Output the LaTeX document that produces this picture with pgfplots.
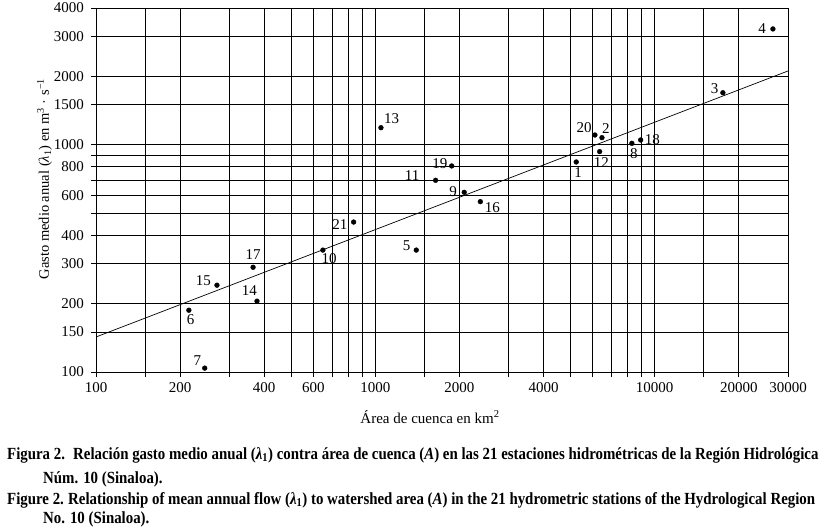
\documentclass[border=0pt]{standalone}
\usepackage{fontspec}
\setmainfont{Liberation Serif}
\newfontfamily\capfont[FakeStretch=0.875]{Liberation Serif}
\usepackage{pgfplots}
\pgfplotsset{compat=1.18}

\begin{document}
\fontsize{15}{18}\selectfont
\begin{tikzpicture}
\useasboundingbox (-96pt,-156pt) rectangle (732pt,372pt);
\begin{axis}[
    at={(0pt,0pt)}, anchor=south west,
    scale only axis, width=692pt, height=364pt,
    xmode=log, ymode=log,
    xmin=100, xmax=30000, ymin=100, ymax=4000,
    xtick={100,150,200,300,400,500,600,700,800,900,1000,1500,2000,3000,4000,5000,6000,7000,8000,9000,10000,15000,20000,30000},
    xticklabels={100,,200,,400,,600,,,,1000,,2000,,4000,,,,,,10000,,20000,30000},
    ytick={100,150,200,300,400,500,600,700,800,900,1000,1500,2000,3000,4000},
    yticklabels={100,150,200,300,400,,600,,800,,1000,1500,2000,3000,4000},
    minor tick num=0,
    tick pos=left, tick align=outside,
    major tick length=5pt,
    tick style={black, line width=0.9pt},
    tick label style={font=\rmfamily\fontsize{15}{18}\selectfont},
    yticklabel style={xshift=-2pt},
    grid=major,
    major grid style={black, line width=0.9pt},
    axis line style={black, line width=0.9pt},
    /pgf/number format/assume math mode=true,
    clip mode=individual,
]
% regression line
\addplot[black, line width=0.7pt] coordinates {(100,142.6) (30000,2113)};
% stations: area (km2), mean annual flow (m3/s)
\addplot[only marks, mark=*, mark size=2.4pt, black] coordinates {
    (5237,840)   % 1
    (6473,1075)  % 2
    (17540,1695) % 3
    (26490,3235) % 4
    (1401,344)   % 5
    (215,187)    % 6
    (245,104)    % 7
    (8283,1015)  % 8
    (2080,618)   % 9
    (649,344)    % 10
    (1643,698)   % 11
    (6352,933)   % 12
    (1047,1189)  % 13
    (377,205)    % 14
    (271,241)    % 15
    (2375,562)   % 16
    (365,289)    % 17
    (8905,1050)  % 18
    (1876,807)   % 19
    (6109,1104)  % 20
    (836,457)    % 21
};
\node at ([shift={(2pt,-11pt)}]axis cs:5237,840) {1};
\node at ([shift={(4pt,9.4pt)}]axis cs:6473,1075) {2};
\node at ([shift={(-8.3pt,4.4pt)}]axis cs:17540,1695) {3};
\node at ([shift={(-10.7pt,0pt)}]axis cs:26490,3235) {4};
\node at ([shift={(-9.6pt,4pt)}]axis cs:1401,344) {5};
\node at ([shift={(1.7pt,-9.7pt)}]axis cs:215,187) {6};
\node at ([shift={(-7.3pt,7.7pt)}]axis cs:245,104) {7};
\node at ([shift={(2pt,-10.7pt)}]axis cs:8283,1015) {8};
\node at ([shift={(-11pt,1pt)}]axis cs:2080,618) {9};
\node at ([shift={(6.3pt,-8.3pt)}]axis cs:649,344) {10};
\node at ([shift={(-23.4pt,4.3pt)}]axis cs:1643,698) {11};
\node at ([shift={(1.6pt,-11pt)}]axis cs:6352,933) {12};
\node at ([shift={(10.7pt,9.4pt)}]axis cs:1047,1189) {13};
\node at ([shift={(-7.7pt,11pt)}]axis cs:377,205) {14};
\node at ([shift={(-13.7pt,5pt)}]axis cs:271,241) {15};
\node at ([shift={(12pt,-5.6pt)}]axis cs:2375,562) {16};
\node at ([shift={(0pt,12.6pt)}]axis cs:365,289) {17};
\node at ([shift={(11.6pt,0.7pt)}]axis cs:8905,1050) {18};
\node at ([shift={(-11.7pt,2pt)}]axis cs:1876,807) {19};
\node at ([shift={(-10.7pt,7.3pt)}]axis cs:6109,1104) {20};
\node at ([shift={(-13.7pt,-2.3pt)}]axis cs:836,457) {21};
\end{axis}
% axis titles
\node[anchor=base] at (334pt,-51pt) {Área de cuenca en km\textsuperscript{2}};
\node[rotate=90, anchor=base, font=\fontsize{14.5}{17}\selectfont] at (-47pt,193pt) {Gasto medio anual ({\itshape λ}\textsubscript{1}) en m\textsuperscript{3} · s\textsuperscript{−1}};
% figure caption
\begin{scope}[every node/.style={anchor=base west, inner sep=0pt, font=\capfont\bfseries\fontsize{17}{20}\selectfont}]
\node at (-89pt,-87pt) {Figura 2.};
\node at (-23pt,-87pt) {Relación gasto medio anual ({\itshape λ}\textsubscript{1}) contra área de cuenca ({\itshape A}) en las 21 estaciones hidrométricas de la Región Hidrológica};
\node at (-53pt,-111pt) {Núm. 10 (Sinaloa).};
\node at (-89pt,-132pt) {Figure 2.};
\node at (-28pt,-132pt) {Relationship of mean annual flow ({\itshape λ}\textsubscript{1}) to watershed area ({\itshape A}) in the 21 hydrometric stations of the Hydrological Region};
\node at (-53pt,-151pt) {No. 10 (Sinaloa).};
\end{scope}
\end{tikzpicture}
\end{document}
